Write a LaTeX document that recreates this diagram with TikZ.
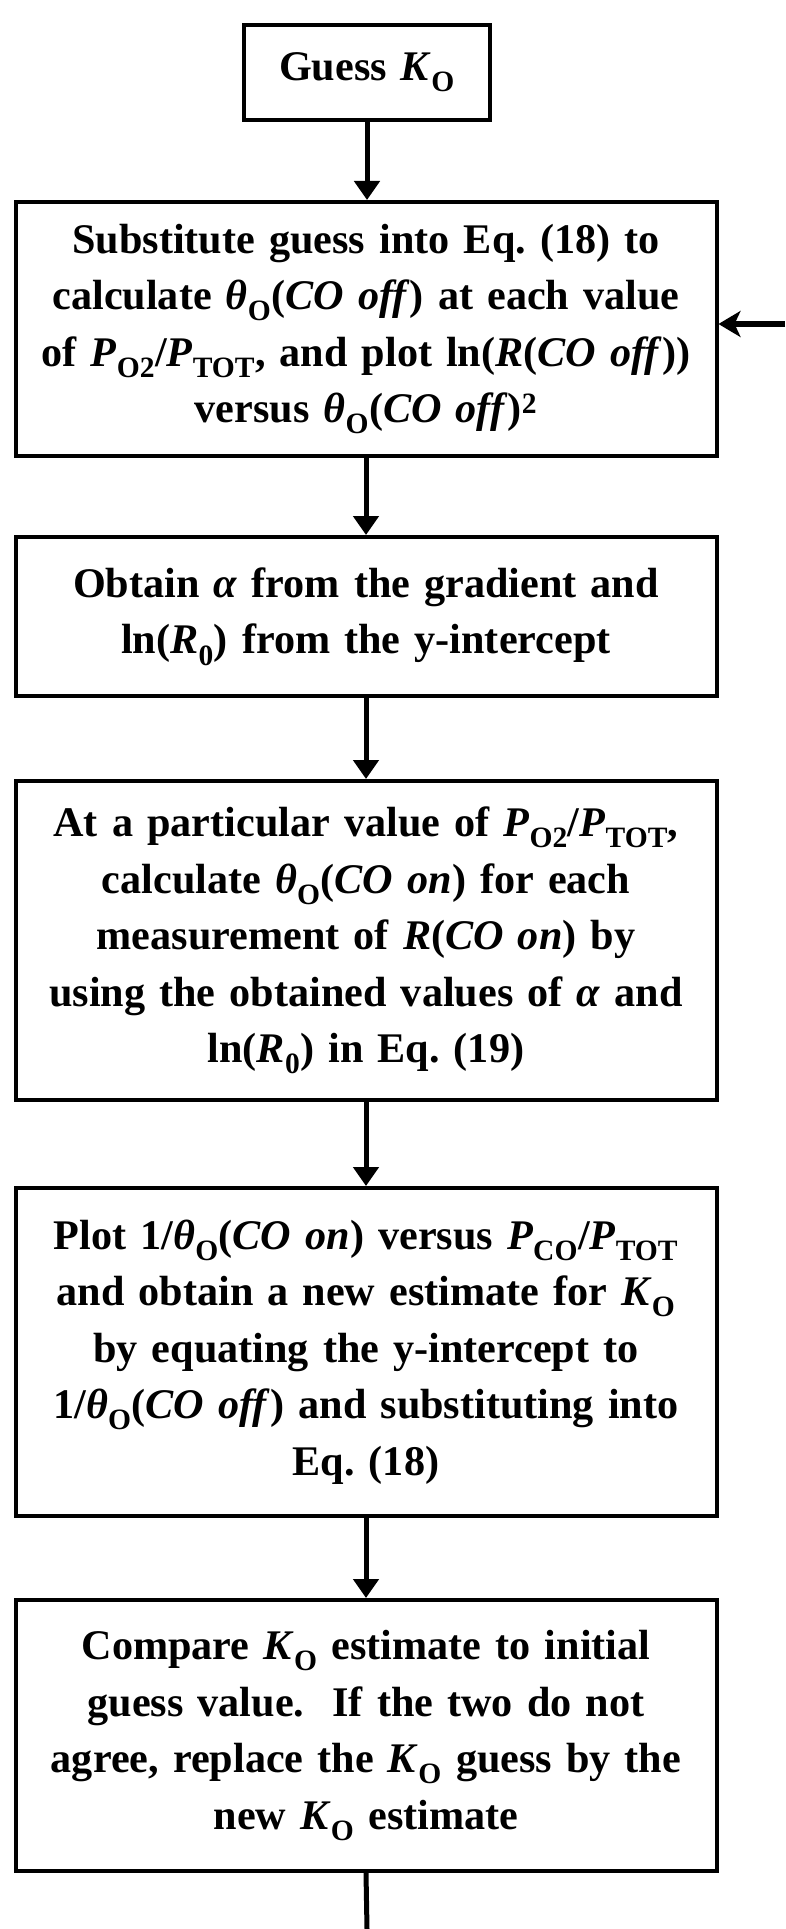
\documentclass[tikz,border=0pt]{standalone}
\usepackage{fontspec}
\setmainfont{Liberation Serif}
\usetikzlibrary{arrows.meta}
\newcommand{\ssub}[1]{\textsubscript{\upshape #1}}
\begin{document}
\frenchspacing
\begin{tikzpicture}[x=1pt,y=1pt,
  box/.style={draw, line width=4pt, inner sep=0pt, text width=701pt, align=center,
    font=\fontsize{42.2}{56.5}\selectfont\bfseries\frenchspacing},
  flow/.style={line width=5pt, -{Triangle[length=19pt,width=25pt]}},
  back/.style={line width=6.5pt, -{Stealth[length=22pt,width=26pt,inset=6pt]}}]
\useasboundingbox (0,0) rectangle (785,-1929);
\fill[white] (0,0) rectangle (785,-1929);
\node[box, text width=246pt, minimum height=95pt] (b1) at (367,-72.5) {Guess \textit{K}\ssub{O}};
\node[box, minimum height=254pt] (b2) at (366,-329) {Substitute guess into Eq. (18) to\\ calculate \textit{θ}\ssub{O}(\textit{CO off}) at each value\\ of \textit{P}\ssub{O2}/\textit{P}\ssub{TOT}, and plot ln(\textit{R}(\textit{CO off}))\\ versus \textit{θ}\ssub{O}(\textit{CO off})\textsuperscript{2}};
\node[box, minimum height=159pt] (b3) at (366,-616.5) {Obtain \textit{α} from the gradient and\\ ln(\textit{R}\ssub{0}) from the y-intercept};
\node[box, minimum height=319pt] (b4) at (366,-940.5) {At a particular value of \textit{P}\ssub{O2}/\textit{P}\ssub{TOT},\\ calculate \textit{θ}\ssub{O}(\textit{CO on}) for each\\ measurement of \textit{R}(\textit{CO on}) by\\ using the obtained values of \textit{α} and\\ ln(\textit{R}\ssub{0}) in Eq. (19)};
\node[box, minimum height=328pt] (b5) at (366,-1352) {Plot 1/\textit{θ}\ssub{O}(\textit{CO on}) versus \textit{P}\ssub{CO}/\textit{P}\ssub{TOT}\\ and obtain a new estimate for \textit{K}\ssub{O}\\ by equating the y-intercept to\\ 1/\textit{θ}\ssub{O}(\textit{CO off}) and substituting into\\ Eq. (18)};
\node[box, minimum height=271pt] (b6) at (366,-1735.5) {Compare \textit{K}\ssub{O} estimate to initial\\ guess value.~~If the two do not\\ agree, replace the \textit{K}\ssub{O} guess by the\\ new \textit{K}\ssub{O} estimate};
\coordinate (fb) at (785,-324);
\coordinate (endpt) at (367,-1929);
\draw[flow] (b1.south) -- (b1.south |- b2.north);
\draw[flow] (b2.south) -- (b3.north);
\draw[flow] (b3.south) -- (b4.north);
\draw[flow] (b4.south) -- (b5.north);
\draw[flow] (b5.south) -- (b6.north);
\draw[line width=5pt] (b6.south) -- (endpt);
\draw[back] (fb) -- (fb -| b2.east);
\end{tikzpicture}
\end{document}
